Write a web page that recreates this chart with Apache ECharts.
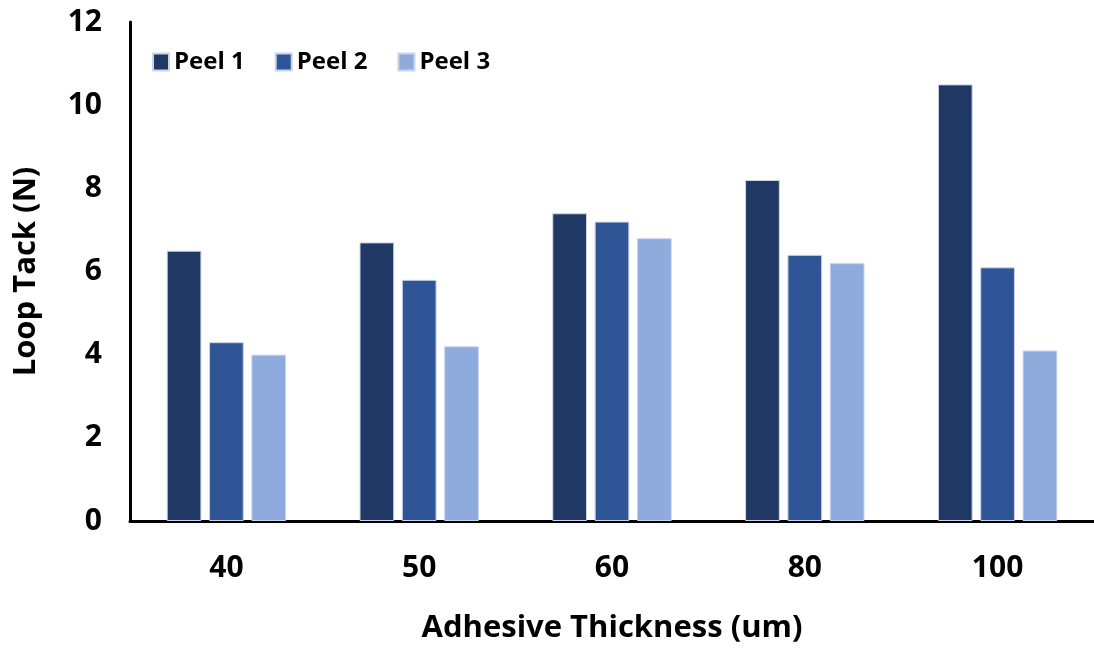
<!DOCTYPE html>
<html>
<head>
<meta charset="utf-8">
<script src="https://cdn.jsdelivr.net/npm/echarts@6/dist/echarts.min.js"></script>
<style>
  html, body { margin: 0; padding: 0; background: #fff; }
  #chart { width: 1094px; height: 648px; }
</style>
</head>
<body>
<div id="chart"></div>
<script>
// Loop tack force by adhesive thickness, three peels each
const categories = ['40', '50', '60', '80', '100'];
const peel1 = [6.5, 6.7, 7.4, 8.2, 10.5];
const peel2 = [4.3, 5.8, 7.2, 6.4, 6.1];
const peel3 = [4.0, 4.2, 6.8, 6.2, 4.1];
const seriesNames = ['Peel 1', 'Peel 2', 'Peel 3'];
const yTicks = [0, 2, 4, 6, 8, 10, 12];

const colors = ['#203864', '#2F5597', '#8FAADC'];
const font = '"Open Sans", Lato, sans-serif';

const chart = echarts.init(document.getElementById('chart'), null, { renderer: 'canvas' });

function bar(name, data, color) {
  return {
    name: name,
    type: 'bar',
    data: data,
    barWidth: '18%',
    barGap: '22%',
    itemStyle: { color: color, borderColor: '#c9d3ea', borderWidth: 1 }
  };
}

chart.setOption({
  animation: false,
  backgroundColor: '#ffffff',
  color: colors,
  grid: { left: 130, right: 0, top: 22, bottom: 127, outerBoundsMode: 'none', containLabel: false },
  legend: {
    data: seriesNames,
    left: 152,
    top: 50,
    padding: 0,
    itemWidth: 16,
    itemHeight: 17,
    itemGap: 30,
    icon: 'rect',
    textStyle: { fontFamily: font, fontWeight: 'bold', fontSize: 24, color: '#000' }
  },
  xAxis: {
    type: 'category',
    data: categories,
    name: 'Adhesive Thickness (um)',
    nameLocation: 'middle',
    nameGap: 92,
    nameTextStyle: { fontFamily: font, fontWeight: 'bold', fontSize: 31, color: '#000' },
    axisLine: { lineStyle: { color: '#000', width: 3 } },
    axisTick: { show: false },
    axisLabel: { fontFamily: font, fontWeight: 'bold', fontSize: 30, color: '#000', margin: 32 }
  },
  yAxis: {
    type: 'value',
    min: yTicks[0],
    max: yTicks[yTicks.length - 1],
    interval: 2,
    name: 'Loop Tack (N)',
    nameLocation: 'middle',
    nameGap: 88,
    nameTextStyle: { fontFamily: font, fontWeight: 'bold', fontSize: 31, color: '#000' },
    axisLine: { show: true, lineStyle: { color: '#000', width: 3 } },
    axisTick: { show: false },
    splitLine: { show: false },
    axisLabel: { fontFamily: font, fontWeight: 'bold', fontSize: 30, color: '#000', margin: 28 }
  },
  series: [
    bar(seriesNames[0], peel1, colors[0]),
    bar(seriesNames[1], peel2, colors[1]),
    bar(seriesNames[2], peel3, colors[2])
  ]
});
</script>
</body>
</html>
